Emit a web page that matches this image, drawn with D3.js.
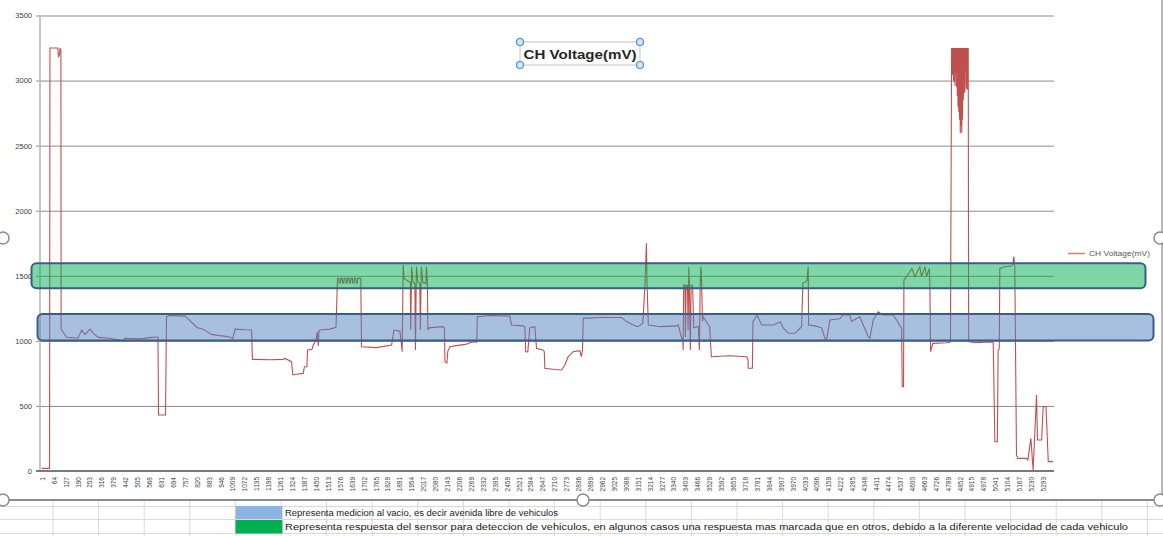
<!DOCTYPE html>
<html>
<head>
<meta charset="utf-8">
<script src="https://cdn.jsdelivr.net/npm/d3@7"></script>
<style>
  html, body { margin: 0; padding: 0; background: #ffffff; }
  svg { display: block; }
</style>
</head>
<body>
<svg id="chart" width="1163" height="536"></svg>
<script>
// ---- data -------------------------------------------------------------
const chartTitle = "CH Voltage(mV)";
const seriesName = "CH Voltage(mV)";
const sampleCount = 5345;

const yTicks = [0, 500, 1000, 1500, 2000, 2500, 3000, 3500];

const xTickLabels = ["1","64","127","190","253","316","379","442","505","568","631","694","757","820","883","946",
  "1009","1072","1135","1198","1261","1324","1387","1450","1513","1576","1639","1702","1765","1828","1891","1954",
  "2017","2080","2143","2206","2269","2332","2395","2458","2521","2584","2647","2710","2773","2836","2899","2962",
  "3025","3088","3151","3214","3277","3340","3403","3466","3529","3592","3655","3718","3781","3844","3907","3970",
  "4033","4096","4159","4222","4285","4348","4411","4474","4537","4600","4663","4726","4789","4852","4915","4978",
  "5041","5104","5167","5230","5293"];

// [sample index, mV]
const chVoltage = [
  [1,20],[41,20],[43,3250],[85,3250],[88,3180],[93,3200],[97,3250],[101,3230],[102,1090],[107,1080],
  [131,1027],[191,1020],[211,1083],[228,1050],[255,1090],[272,1058],[299,1027],[360,1020],[429,1000],
  [440,1020],[519,1015],[572,1025],[607,1030],[614,1030],[617,430],[654,430],[659,1186],[677,1195],
  [757,1190],[783,1155],[819,1103],[852,1090],[898,1050],[942,1040],[995,1030],[1010,1015],[1021,1090],
  [1074,1085],[1109,1083],[1113,858],[1206,855],[1276,858],[1285,865],[1320,840],[1327,738],[1354,745],
  [1382,750],[1388,801],[1401,801],[1405,930],[1428,935],[1435,968],[1449,1006],[1456,1070],[1461,960],
  [1465,1075],[1470,1083],[1523,1090],[1555,1104],[1563,1480],
  [1570,1480],[1572,1445],[1578,1445],[1580,1480],[1588,1480],[1590,1445],[1596,1445],[1598,1480],
  [1606,1480],[1608,1445],[1614,1445],[1616,1480],[1624,1480],[1626,1445],[1632,1445],[1634,1480],
  [1642,1480],[1644,1445],[1650,1445],[1652,1480],[1660,1480],[1662,1445],[1668,1445],[1670,1480],
  [1686,1480],[1690,955],[1769,948],[1849,968],[1861,1083],[1893,1075],[1905,917],
  [1910,1583],[1915,1480],[1935,1460],[1948,1450],[1950,1083],[1955,1570],[1962,1450],[1972,1440],
  [1975,930],[1980,1570],[1988,1450],[1998,1440],[2001,1083],[2006,1570],[2014,1450],[2030,1440],
  [2033,1570],[2038,1450],[2041,1083],[2046,1100],[2120,1109],[2128,1100],[2131,840],[2141,830],
  [2146,920],[2157,955],[2199,965],[2245,975],[2263,985],[2289,994],[2299,990],[2302,1186],[2368,1195],
  [2474,1190],[2483,1122],[2543,1115],[2553,1110],[2558,917],[2569,915],[2579,1100],[2606,1109],
  [2615,943],[2648,930],[2656,917],[2659,789],[2712,780],[2747,776],[2765,814],[2782,878],[2809,917],
  [2844,925],[2852,878],[2858,930],[2862,1173],[2950,1180],[3065,1180],[3091,1148],[3126,1122],
  [3151,1109],[3177,1135],[3188,1430],[3196,1750],[3199,1450],[3206,1122],[3268,1109],[3355,1115],
  [3364,1122],[3382,1020],[3388,1020],[3390,930],[3393,1430],[3400,1420],[3402,1030],[3406,1430],
  [3413,1425],[3416,1080],[3420,1570],[3423,1430],[3428,930],[3432,1430],[3440,1420],[3446,1100],
  [3470,1110],[3476,930],[3480,1430],[3484,1570],[3488,1430],[3492,1150],[3495,1186],[3530,1109],
  [3539,878],[3636,885],[3726,878],[3733,853],[3734,789],[3756,789],[3759,1147],[3780,1199],
  [3806,1122],[3866,1122],[3903,1147],[3919,1100],[3946,1058],[3981,1058],[4016,1109],[4023,1442],
  [4044,1460],[4051,1570],[4053,1122],[4086,1115],[4122,1100],[4139,1020],[4148,1010],[4166,1160],
  [4218,1170],[4234,1199],[4271,1199],[4280,1150],[4324,1185],[4342,1122],[4368,1032],[4377,1020],
  [4395,1160],[4421,1224],[4446,1199],[4499,1199],[4518,1160],[4545,1096],[4548,648],[4555,648],
  [4557,1468],[4571,1493],[4599,1557],[4615,1493],[4641,1570],[4650,1493],[4668,1570],[4677,1493],
  [4691,1557],[4694,1442],[4698,917],[4710,981],[4783,985],[4803,990],
  [4809,3250],[4811,3050],[4813,3250],[4815,3040],[4817,3250],[4819,3000],[4821,3250],[4823,2990],
  [4825,3250],[4827,2960],[4829,3250],[4831,3060],[4833,3250],[4835,2950],[4837,3250],[4839,2880],
  [4841,3250],[4843,2800],[4845,3250],[4847,2760],[4849,3250],[4851,2700],[4853,3250],[4855,2595],
  [4857,3250],[4859,2650],[4861,3250],[4863,2600],[4865,3250],[4867,2700],[4869,3250],[4871,2850],
  [4873,3250],[4875,2900],[4877,3250],[4879,2910],[4881,3250],[4883,3100],[4885,3250],[4887,2940],
  [4889,3250],[4891,2930],[4893,3250],[4895,3150],[4897,3250],[4899,994],
  [4932,985],[4985,990],[5029,990],[5038,225],[5051,225],[5055,930],[5061,940],[5064,1557],
  [5091,1570],[5126,1575],[5133,1590],[5138,1647],[5143,1570],[5152,123],[5159,97],[5205,97],
  [5212,85],[5228,251],[5240,8],[5258,584],[5263,238],[5285,238],[5293,494],[5308,494],[5320,72],
  [5345,72]
];

// highlighted value bands (mV) drawn over the plot
const bandVehicle = [1404, 1596];
const bandEmpty = [1002, 1206];

const noteLines = [
  "Representa medicion al vacio, es decir avenida libre de vehiculos",
  "Representa respuesta del sensor para deteccion de vehiculos, en algunos casos una respuesta mas marcada que en otros, debido a la diferente velocidad de  cada vehiculo"
];

// ---- layout -----------------------------------------------------------
const svg = d3.select("#chart");
const plot = { left: 40, right: 1054, top: 15.5, bottom: 471 };

const x = d3.scaleLinear().domain([1, sampleCount]).range([42, 1053]);
const y = d3.scaleLinear().domain([0, 3500]).range([plot.bottom, plot.top]);

const font = "'Liberation Sans', Arial, sans-serif";

// horizontal gridlines
const yAxis = d3.axisLeft(y).tickValues(yTicks).tickFormat(d3.format("d"))
  .tickSize(-(plot.right - 36)).tickPadding(5);
const gY = svg.append("g").attr("transform", `translate(36,0)`).call(yAxis);
gY.select(".domain").remove();
gY.selectAll(".tick line").attr("stroke", "#8c8c8c").attr("stroke-width", 1);
gY.selectAll(".tick text").attr("font-family", font).attr("font-size", 7.5)
  .attr("fill", "#404040").attr("x", -4);

// vertical value axis line
svg.append("line").attr("x1", plot.left).attr("x2", plot.left)
  .attr("y1", plot.top).attr("y2", plot.bottom)
  .attr("stroke", "#b4b4b4").attr("stroke-width", 1.5);

// category axis
const xAxis = d3.axisBottom(x).tickValues(xTickLabels.map(Number)).tickFormat(d => String(d)).tickSize(0).tickPadding(0);
const gX = svg.append("g").attr("transform", `translate(0,${plot.bottom})`).call(xAxis);
gX.select(".domain").remove();
gX.selectAll(".tick text")
  .attr("font-family", font).attr("font-size", 6.5).attr("fill", "#444")
  .attr("text-anchor", "end").attr("transform", "rotate(-90)")
  .attr("x", -6).attr("y", 0).attr("dy", "0.35em");
svg.append("line").attr("x1", 36).attr("x2", plot.right)
  .attr("y1", plot.bottom).attr("y2", plot.bottom)
  .attr("stroke", "#7a7a7a").attr("stroke-width", 2);

// series line
const line = d3.line().x(d => x(d[0])).y(d => y(d[1]));
svg.append("path").datum(chVoltage)
  .attr("d", line).attr("fill", "none")
  .attr("stroke", "#c0504d").attr("stroke-width", 1.1)
  .attr("stroke-linejoin", "miter");

// highlighted bands (semi-transparent shapes over the plot)
svg.append("rect")
  .attr("x", 31.5).attr("width", 1145.5 - 31.5)
  .attr("y", y(bandVehicle[1])).attr("height", y(bandVehicle[0]) - y(bandVehicle[1]))
  .attr("rx", 5).attr("ry", 5)
  .attr("fill", "rgba(0,176,80,0.5)").attr("stroke", "#385d8a").attr("stroke-width", 2);
svg.append("rect")
  .attr("x", 37.5).attr("width", 1153.5 - 37.5)
  .attr("y", y(bandEmpty[1])).attr("height", y(bandEmpty[0]) - y(bandEmpty[1]))
  .attr("rx", 5).attr("ry", 5)
  .attr("fill", "rgba(79,129,189,0.5)").attr("stroke", "#385d8a").attr("stroke-width", 2);

// legend
svg.append("line").attr("x1", 1068).attr("x2", 1085).attr("y1", 253.5).attr("y2", 253.5)
  .attr("stroke", "#d87a78").attr("stroke-width", 1.5);
svg.append("text").attr("x", 1089).attr("y", 256).text(seriesName)
  .attr("font-family", font).attr("font-size", 7).attr("fill", "#595959")
  .attr("textLength", 61).attr("lengthAdjust", "spacingAndGlyphs");

// title in a selected text box
const tb = { x: 520, y: 42, w: 120, h: 23 };
svg.append("rect").attr("x", tb.x).attr("y", tb.y).attr("width", tb.w).attr("height", tb.h)
  .attr("fill", "#fff").attr("stroke", "#c4c4c4").attr("stroke-width", 1);
svg.append("text").attr("x", tb.x + tb.w / 2).attr("y", tb.y + 17).text(chartTitle)
  .attr("text-anchor", "middle").attr("font-family", font).attr("font-weight", "bold")
  .attr("font-size", 13).attr("fill", "#262626")
  .attr("textLength", 113).attr("lengthAdjust", "spacingAndGlyphs");
[[tb.x, tb.y], [tb.x + tb.w, tb.y], [tb.x, tb.y + tb.h], [tb.x + tb.w, tb.y + tb.h]].forEach(([cx, cy]) => {
  svg.append("circle").attr("cx", cx).attr("cy", cy).attr("r", 3.5)
    .attr("fill", "#d6e6f8").attr("stroke", "#4a8fdb").attr("stroke-width", 1.2);
});

// chart frame (selected) with sizing handles
svg.append("line").attr("x1", 0).attr("x2", 1163).attr("y1", 500).attr("y2", 500)
  .attr("stroke", "#8c8c8c").attr("stroke-width", 2);
svg.append("line").attr("x1", 1162).attr("x2", 1162).attr("y1", 0).attr("y2", 500)
  .attr("stroke", "#a0a0a0").attr("stroke-width", 1.5);

// worksheet cells beneath the chart
const rowLines = [506.5, 519.5, 533.5];
const colLines = d3.range(0, 25).map(k => 53 + k * 45.6);
const sheet = svg.insert("g", ":first-child");
rowLines.forEach(ry => sheet.append("line").attr("x1", 0).attr("x2", 1163).attr("y1", ry).attr("y2", ry)
  .attr("stroke", "#d9d9d9").attr("stroke-width", 1));
colLines.forEach(cx => sheet.append("line").attr("x1", cx).attr("x2", cx).attr("y1", 501).attr("y2", 536)
  .attr("stroke", "#d9d9d9").attr("stroke-width", 1));
svg.append("rect").attr("x", 235.5).attr("y", 506).attr("width", 47).attr("height", 13).attr("fill", "#8db4e2");
svg.append("rect").attr("x", 235.5).attr("y", 520).attr("width", 47).attr("height", 13.5).attr("fill", "#00b050");
svg.append("text").attr("x", 285).attr("y", 516).text(noteLines[0])
  .attr("font-family", font).attr("font-size", 8.5).attr("fill", "#1a1a1a")
  .attr("textLength", 273).attr("lengthAdjust", "spacingAndGlyphs");
svg.append("text").attr("x", 285).attr("y", 530).text(noteLines[1])
  .attr("font-family", font).attr("font-size", 8.5).attr("fill", "#1a1a1a")
  .attr("textLength", 843).attr("lengthAdjust", "spacingAndGlyphs");

const handles = [[3, 238], [1160, 238], [3, 500], [583, 500], [1160, 500]];
handles.forEach(([cx, cy]) => {
  svg.append("circle").attr("cx", cx).attr("cy", cy).attr("r", 6)
    .attr("fill", "#fff").attr("stroke", "#8c8c8c").attr("stroke-width", 1.5);
});
</script>
</body>
</html>
